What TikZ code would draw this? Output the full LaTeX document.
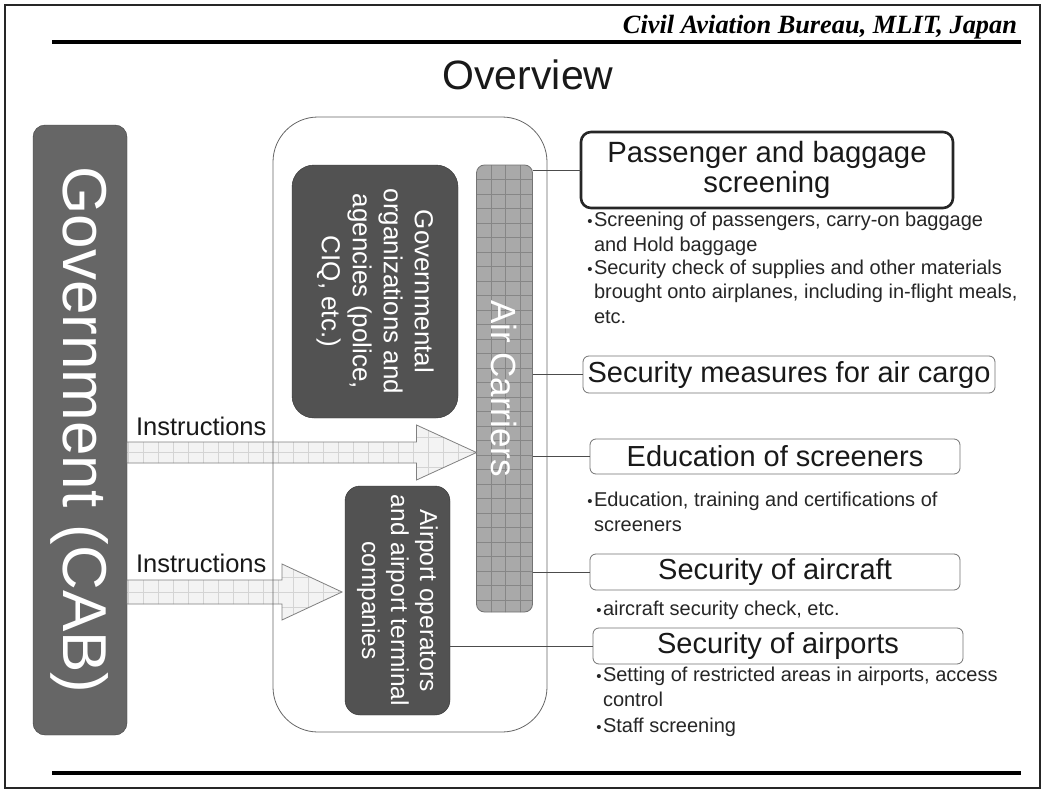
\documentclass[tikz,border=0pt]{standalone}
\usepackage{fontspec}
\setmainfont{Liberation Sans}
\newfontfamily\hdrfont{Liberation Serif}
\usetikzlibrary{calc}
\definecolor{govfill}{HTML}{666666}
\definecolor{darkfill}{HTML}{525252}
\definecolor{acfill}{HTML}{A9A9A9}
\definecolor{acgrid}{HTML}{868686}
\definecolor{arfill}{HTML}{F3F3F3}
\definecolor{argrid}{HTML}{D4D4D4}
\newcommand{\fs}[2]{\fontsize{#1}{#2}\selectfont}
\newcommand{\bu}{\llap{\fs{15}{15}\textbullet\hspace{1.5pt}}}
\begin{document}
\begin{tikzpicture}[x=1pt,y=-1pt,
  every node/.style={inner sep=0pt,outer sep=0pt},
  govbox/.style={draw=black!75,fill=govfill,rounded corners=12pt},
  darkbox/.style={draw=black!80,fill=darkfill},
  whitetext/.style={text=white,rotate=-90,align=center},
  topic/.style={draw=black!55,line width=0.8pt,rounded corners=6pt,fill=white,font=\fs{29}{30},text=black!90},
  bul/.style={anchor=base west,align=left,font=\fs{20}{24.5},text=black!85},
  conn/.style={draw=black!70,line width=0.9pt},
  arr/.style={draw=black!50,fill=arfill,line width=0.8pt},
  gline/.style={draw=argrid,line width=0.6pt},
  aline/.style={draw=acgrid,line width=0.7pt}]
\useasboundingbox (0,0) rectangle (1045,792);
\fill[white] (0,0) rectangle (1045,792);

% header
\node[anchor=base east] (hdr) at (1017,34) {\resizebox{394pt}{!}{\hdrfont\bfseries\itshape Civil Aviation Bureau, MLIT, Japan}};
\node[anchor=base,text=black!90] (title) at (528,89) {\fs{41}{41}Overview};

% Government
\node[govbox,minimum width=94,minimum height=610] (gov) at (80,430) {};
\node[whitetext,font=\fs{62}{62}] (govtext) at (gov.center) {Government (CAB)};

% Air carriers
\node[fill=acfill,rounded corners=8pt,minimum width=56,minimum height=447] (ac) at (504.5,388.5) {};
\begin{scope}
\clip[rounded corners=8pt] (ac.north west) rectangle (ac.south east);
\foreach \i in {1,2,3} {\draw[aline] (477+14.4*\i,160) -- (477+14.4*\i,620);}
\foreach \j in {1,...,30} {\draw[aline] (470,165+14.5*\j) -- (540,165+14.5*\j);}
\end{scope}
\draw[black!55,line width=0.8pt,rounded corners=8pt] (ac.north west) rectangle (ac.south east);
\node[whitetext,font=\fs{35}{35}] (actext) at (ac.center) {Air Carriers};

% Governmental organizations
\node[darkbox,rounded corners=22pt,minimum width=166,minimum height=253] (go) at (375,291.5) {};
\node[whitetext,font=\fs{26}{31}] (gotext) at (go.center) {Governmental\\organizations and\\agencies (police,\\CIQ, etc.)};

% Airport operators
\node[darkbox,rounded corners=15pt,minimum width=105,minimum height=229] (ap) at (397.5,600.5) {};
\node[whitetext,font=\fs{24.5}{29}] (aptext) at (ap.center) {Airport operators\\and airport terminal\\companies};

% arrows
\coordinate (s1) at (gov.east |- 0,452.5);
\coordinate (t1) at (ac.west |- 0,452.5);
\path[arr,path picture={
  \foreach \i in {0,...,24} {\draw[gline] (128+15*\i,400) -- (128+15*\i,500);}
  \foreach \j in {-3,...,3} {\draw[gline] (100,452.5+15*\j) -- (500,452.5+15*\j);}}]
  ($(s1)+(0,-10.5)$) -- ($(t1)+(-60,-10.5)$) -- ($(t1)+(-60,-27.5)$) -- (t1)
  -- ($(t1)+(-60,27.5)$) -- ($(t1)+(-60,10.5)$) -- ($(s1)+(0,10.5)$) -- cycle;
\node[anchor=base west,font=\fs{25.5}{26},text=black!90] (ins1) at (136,435) {Instructions};

\coordinate (s2) at (gov.east |- 0,592);
\coordinate (t2) at ($(ap.west |- 0,592)+(-3,0)$);
\path[arr,path picture={
  \foreach \i in {0,...,16} {\draw[gline] (128+15*\i,540) -- (128+15*\i,640);}
  \foreach \j in {-3,...,3} {\draw[gline] (100,592+15*\j) -- (400,592+15*\j);}}]
  ($(s2)+(0,-12)$) -- ($(t2)+(-60,-12)$) -- ($(t2)+(-60,-28)$) -- (t2)
  -- ($(t2)+(-60,28)$) -- ($(t2)+(-60,12)$) -- ($(s2)+(0,12)$) -- cycle;
\node[anchor=base west,font=\fs{25.5}{26},text=black!90] (ins2) at (136,572) {Instructions};

% outer container
\node[draw=black!60,line width=0.8pt,rounded corners=45pt,minimum width=274,minimum height=615] (outer) at (410,424.5) {};

% topic boxes
\node[topic,draw=black!85,line width=2.6pt,rounded corners=10pt,minimum width=372,minimum height=76,align=center,font=\fs{29.3}{29.5}] (b1) at (767,170) {\raisebox{-3pt}{Passenger and baggage}\\\raisebox{-3pt}{screening}};
\node[topic,minimum width=412,minimum height=37] (b2) at (789,374.5) {Security measures for air cargo};
\node[topic,minimum width=370,minimum height=35] (b3) at (775,456.5) {Education of screeners};
\node[topic,minimum width=370,minimum height=36] (b4) at (775,572) {Security of aircraft};
\node[topic,minimum width=370,minimum height=36] (b5) at (778,646) {Security of airports};

% connectors
\draw[conn] (ac.east |- b1.west) -- (b1.west);
\draw[conn] (ac.east |- b2.west) -- (b2.west);
\draw[conn] (ac.east |- b3.west) -- (b3.west);
\draw[conn] (ac.east |- b4.west) -- (b4.west);
\draw[conn] (ap.east |- b5.west) -- (b5.west);

% bullets (base anchor = baseline of last line)
\node[bul] (t1a) at (594,251) {\bu Screening of passengers, carry-on baggage\\and Hold baggage};
\node[bul] (t1b) at (594,323) {\bu Security check of supplies and other materials\\brought onto airplanes, including in-flight meals,\\etc.};
\node[bul] (t3a) at (594,531) {\bu Education, training and certifications of\\screeners};
\node[bul] (t4a) at (603,615) {\bu aircraft security check, etc.};
\node[bul] (t5a) at (603,706) {\bu Setting of restricted areas in airports, access\\control};
\node[bul] (t5b) at (603,732) {\bu Staff screening};

% rules and frame
\draw[line width=4.5pt] (52,42) -- (1021,42);
\draw[line width=4.5pt] (52,773) -- (1021,773);
\draw[line width=2.5pt,black!85] (5,5) rectangle (1040,788);
\end{tikzpicture}
\end{document}
